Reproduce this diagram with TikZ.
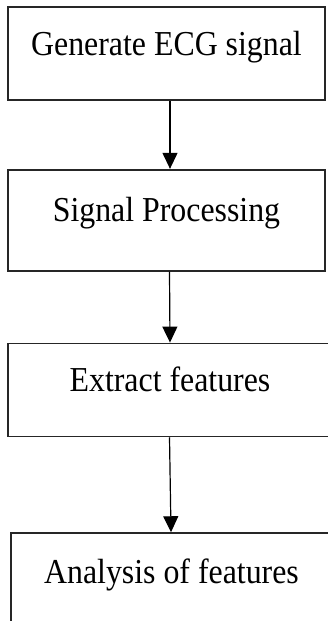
\documentclass[tikz,border=0pt]{standalone}
\usepackage{fontspec}
\setmainfont{Liberation Serif}[FakeStretch=0.91]
\usetikzlibrary{positioning,arrows.meta}

\begin{document}
\begin{tikzpicture}[
	node distance=68pt,
	font=\fontsize{35}{40}\selectfont
	]
\tikzset{
	stage/.style = { rectangle, draw=black!85, line width=1.7pt, inner xsep=0pt, inner ysep=0pt, minimum width=317pt, text height=48pt, text depth=45pt },
	arrow/.style = { line width=1.2pt, -{Triangle[width=15pt,length=16pt]} }
}
	\useasboundingbox (0,0) rectangle (327pt,-621pt);

	% boxes
	\node (genECG) [stage] at (166.5pt,-53.5pt) {Generate ECG signal};
	\node (sigProc) [stage, below=68pt of genECG, text height=52pt, text depth=49pt] {Signal Processing};
	\node (extFeat) [stage, below=71pt of sigProc, minimum width=324pt, xshift=3.5pt] {Extract features};
	\node (anaFeat) [stage, below=95pt of extFeat, minimum width=321pt, xshift=1.5pt, text height=50pt, text depth=41pt] {Analysis of features};

	% paths
	\draw [arrow] ([xshift=3.5pt]genECG.south) -- ([xshift=3.5pt]sigProc.north);
	\draw [arrow] ([xshift=3pt]sigProc.south) -- (extFeat.north);
	\draw [arrow] ([xshift=-0.5pt]extFeat.south) -- ([xshift=-0.5pt]anaFeat.north);
\end{tikzpicture}
\end{document}
